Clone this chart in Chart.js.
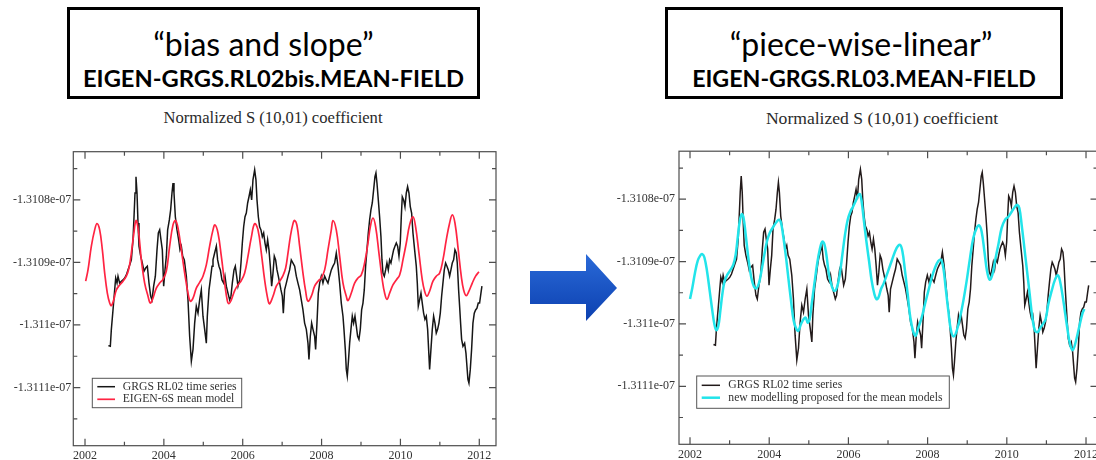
<!DOCTYPE html>
<html>
<head>
<meta charset="utf-8">
<script src="https://cdn.jsdelivr.net/npm/chart.js@4.4.1/dist/chart.umd.min.js"></script>
<style>
  html, body { margin: 0; padding: 0; background: #fff; overflow: hidden; }
  body { position: relative; width: 1096px; height: 460px; }
  .box { position: absolute; border: 3px solid #000; box-sizing: border-box; }
  .t1, .t2, .sub { position: absolute; text-align: center; white-space: nowrap; color: #000; }
  .t1 { font-family: Lato, "Open Sans", sans-serif; font-size: 32px; line-height: 32px; }
  .t2 { font-family: Lato, "Open Sans", sans-serif; font-weight: 700; line-height: 24px; }
  .sub { font-family: "Liberation Serif", serif; color: #2a2a2a; }
  canvas { position: absolute; }
  svg { position: absolute; }
</style>
</head>
<body>

<div class="box" style="left:67px; top:7px; width:413px; height:92px;"></div>
<div class="t1" style="left:57px; width:413px; top:27.5px;">“bias and slope”</div>
<div class="t2" style="left:67px; width:413px; top:66px; font-size:23.7px;">EIGEN-GRGS.RL02bis.MEAN-FIELD</div>
<div class="sub" style="left:123px; width:300px; top:110px; font-size:16.6px; line-height:16.6px;">Normalized S (10,01) coefficient</div>

<div class="box" style="left:665px; top:7px; width:398px; height:92px;"></div>
<div class="t1" style="left:662px; width:398px; top:27.5px;">“piece-wise-linear”</div>
<div class="t2" style="left:665px; width:398px; top:66px; font-size:23.2px;">EIGEN-GRGS.RL03.MEAN-FIELD</div>
<div class="sub" style="left:732px; width:300px; top:109.6px; font-size:17.6px; line-height:17.6px;">Normalized S (10,01) coefficient</div>

<canvas id="leftChart" width="510" height="320" style="left:0; top:140px;"></canvas>
<canvas id="rightChart" width="510" height="320" style="left:600px; top:140px;"></canvas>

<svg width="100" height="80" viewBox="0 0 100 80" style="left:526px; top:250px;">
  <defs>
    <linearGradient id="arrowFill" x1="0" y1="0" x2="0" y2="1">
      <stop offset="0" stop-color="#2a6ad8"/>
      <stop offset="1" stop-color="#0c40b0"/>
    </linearGradient>
  </defs>
  <polygon points="4,21 60,21 60,4 91,38 60,71 60,54 4,54" fill="url(#arrowFill)"/>
</svg>

<script>
// normalized S(10,01) values are stored in units of 1e-7
const yearTicks = [2002, 2004, 2006, 2008, 2010, 2012];
const minorYearTicks = [2003, 2005, 2007, 2009, 2011];
const valueTicks = [-1.3108, -1.3109, -1.311, -1.3111];
const minorValueTicks = [-1.31075, -1.31085, -1.31095, -1.31105, -1.31115];

// GRGS RL02 time series
const grgsYears = [
  2002.592, 2002.642, 2002.668, 2002.710, 2002.752, 2002.778, 2002.812, 2002.837, 2002.879, 2002.921,
  2002.964, 2003.006, 2003.048, 2003.090, 2003.133, 2003.175, 2003.217, 2003.243, 2003.268, 2003.293,
  2003.319, 2003.344, 2003.369, 2003.412, 2003.454, 2003.496, 2003.538, 2003.581, 2003.623, 2003.665,
  2003.699, 2003.741, 2003.784, 2003.826, 2003.860, 2003.894, 2003.927, 2003.961, 2003.995, 2004.029,
  2004.063, 2004.096, 2004.139, 2004.172, 2004.206, 2004.232, 2004.257, 2004.291, 2004.333, 2004.375,
  2004.409, 2004.443, 2004.477, 2004.519, 2004.570, 2004.612, 2004.654, 2004.697, 2004.739, 2004.781,
  2004.823, 2004.866, 2004.908, 2004.950, 2004.992, 2005.035, 2005.077, 2005.102, 2005.145, 2005.178,
  2005.221, 2005.246, 2005.288, 2005.331, 2005.364, 2005.398, 2005.432, 2005.474, 2005.516, 2005.550,
  2005.584, 2005.626, 2005.669, 2005.702, 2005.736, 2005.779, 2005.812, 2005.846, 2005.880, 2005.922,
  2005.956, 2005.990, 2006.024, 2006.058, 2006.091, 2006.125, 2006.159, 2006.193, 2006.227, 2006.260,
  2006.303, 2006.336, 2006.362, 2006.396, 2006.429, 2006.463, 2006.497, 2006.531, 2006.565, 2006.598,
  2006.632, 2006.666, 2006.700, 2006.734, 2006.768, 2006.801, 2006.835, 2006.869, 2006.903, 2006.937,
  2006.970, 2007.004, 2007.030, 2007.063, 2007.106, 2007.148, 2007.190, 2007.232, 2007.275, 2007.317,
  2007.359, 2007.401, 2007.444, 2007.486, 2007.528, 2007.570, 2007.613, 2007.655, 2007.680, 2007.714,
  2007.748, 2007.782, 2007.824, 2007.849, 2007.883, 2007.917, 2007.951, 2007.993, 2008.035, 2008.078,
  2008.120, 2008.162, 2008.204, 2008.247, 2008.289, 2008.331, 2008.373, 2008.416, 2008.458, 2008.500,
  2008.543, 2008.568, 2008.602, 2008.627, 2008.652, 2008.678, 2008.712, 2008.745, 2008.779, 2008.813,
  2008.847, 2008.881, 2008.914, 2008.948, 2008.982, 2009.016, 2009.050, 2009.083, 2009.117, 2009.151,
  2009.185, 2009.219, 2009.252, 2009.286, 2009.320, 2009.354, 2009.379, 2009.405, 2009.439, 2009.472,
  2009.506, 2009.532, 2009.557, 2009.591, 2009.625, 2009.658, 2009.692, 2009.726, 2009.760, 2009.794,
  2009.827, 2009.861, 2009.895, 2009.929, 2009.963, 2009.996, 2010.022, 2010.047, 2010.081, 2010.115,
  2010.149, 2010.182, 2010.216, 2010.250, 2010.284, 2010.318, 2010.360, 2010.402, 2010.428, 2010.453,
  2010.487, 2010.521, 2010.554, 2010.588, 2010.622, 2010.656, 2010.690, 2010.715, 2010.740, 2010.774,
  2010.808, 2010.842, 2010.876, 2010.909, 2010.943, 2010.977, 2011.011, 2011.045, 2011.078, 2011.112,
  2011.146, 2011.180, 2011.214, 2011.248, 2011.281, 2011.315, 2011.349, 2011.383, 2011.417, 2011.442,
  2011.476, 2011.501, 2011.526, 2011.552, 2011.586, 2011.628, 2011.662, 2011.687, 2011.712, 2011.738,
  2011.772, 2011.805, 2011.839, 2011.873, 2011.907, 2011.941, 2011.974, 2012.008, 2012.042, 2012.067
];
const grgsValues = [
  -1.311033, -1.311034, -1.311007, -1.310976, -1.310944, -1.310925, -1.310933, -1.310922, -1.310933, -1.310930,
  -1.310928, -1.310925, -1.310920, -1.310912, -1.310904, -1.310896, -1.310864, -1.310827, -1.310789, -1.310763,
  -1.310789, -1.310837, -1.310874, -1.310890, -1.310901, -1.310914, -1.310909, -1.310906, -1.310933, -1.310954,
  -1.310960, -1.310938, -1.310922, -1.310880, -1.310853, -1.310848, -1.310864, -1.310880, -1.310938, -1.310912,
  -1.310890, -1.310848, -1.310832, -1.310816, -1.310789, -1.310773, -1.310789, -1.310827, -1.310848, -1.310864,
  -1.310880, -1.310874, -1.310890, -1.310896, -1.310922, -1.310960, -1.311018, -1.311058, -1.311039, -1.310997,
  -1.310970, -1.310981, -1.310960, -1.310944, -1.310986, -1.311007, -1.311029, -1.310986, -1.310944, -1.310928,
  -1.310906, -1.310896, -1.310885, -1.310874, -1.310896, -1.310906, -1.310912, -1.310928, -1.310933, -1.310922,
  -1.310938, -1.310949, -1.310960, -1.310954, -1.310933, -1.310912, -1.310906, -1.310922, -1.310938, -1.310928,
  -1.310901, -1.310869, -1.310843, -1.310827, -1.310821, -1.310805, -1.310795, -1.310784, -1.310800, -1.310768,
  -1.310752, -1.310768, -1.310800, -1.310827, -1.310843, -1.310848, -1.310859, -1.310853, -1.310869, -1.310880,
  -1.310864, -1.310880, -1.310906, -1.310938, -1.310917, -1.310890, -1.310896, -1.310912, -1.310922, -1.310933,
  -1.310944, -1.310954, -1.310981, -1.310944, -1.310933, -1.310922, -1.310912, -1.310896, -1.310901, -1.310906,
  -1.310922, -1.310933, -1.310944, -1.310960, -1.310976, -1.310997, -1.311007, -1.311029, -1.311055, -1.311018,
  -1.310997, -1.311007, -1.311018, -1.311039, -1.310997, -1.310949, -1.310933, -1.310922, -1.310933, -1.310922,
  -1.310928, -1.310933, -1.310922, -1.310912, -1.310906, -1.310901, -1.310885, -1.310906, -1.310933, -1.310965,
  -1.310986, -1.311007, -1.311039, -1.311071, -1.311082, -1.311061, -1.311029, -1.311007, -1.310986, -1.310997,
  -1.310986, -1.311002, -1.311018, -1.311023, -1.311007, -1.310976, -1.310965, -1.310944, -1.310906, -1.310880,
  -1.310853, -1.310832, -1.310816, -1.310805, -1.310784, -1.310763, -1.310757, -1.310773, -1.310800, -1.310827,
  -1.310859, -1.310896, -1.310917, -1.310922, -1.310912, -1.310901, -1.310912, -1.310896, -1.310901, -1.310890,
  -1.310880, -1.310874, -1.310869, -1.310874, -1.310890, -1.310869, -1.310827, -1.310795, -1.310800, -1.310811,
  -1.310789, -1.310779, -1.310789, -1.310811, -1.310821, -1.310853, -1.310880, -1.310906, -1.310933, -1.310970,
  -1.310960, -1.310949, -1.310965, -1.310981, -1.310991, -1.310986, -1.311007, -1.311039, -1.311071, -1.311039,
  -1.311007, -1.310986, -1.310997, -1.311013, -1.311007, -1.310997, -1.310981, -1.310954, -1.310933, -1.310912,
  -1.310901, -1.310906, -1.310912, -1.310922, -1.310912, -1.310901, -1.310896, -1.310880, -1.310885, -1.310901,
  -1.310944, -1.310970, -1.310997, -1.311023, -1.311034, -1.311029, -1.311045, -1.311066, -1.311087, -1.311093,
  -1.311071, -1.311039, -1.310997, -1.310981, -1.310976, -1.310973, -1.310965, -1.310965, -1.310949, -1.310938
];

// EIGEN-6S mean model
const eigenYears = [
  2002.017, 2002.076, 2002.161, 2002.245, 2002.304, 2002.372, 2002.440, 2002.499, 2002.566, 2002.626,
  2002.668, 2002.727, 2002.795, 2002.879, 2002.964, 2003.048, 2003.116, 2003.175, 2003.234, 2003.293,
  2003.352, 2003.429, 2003.513, 2003.598, 2003.657, 2003.724, 2003.809, 2003.894, 2003.978, 2004.063,
  2004.147, 2004.232, 2004.299, 2004.367, 2004.443, 2004.528, 2004.612, 2004.671, 2004.739, 2004.823,
  2004.908, 2004.992, 2005.077, 2005.161, 2005.246, 2005.297, 2005.373, 2005.457, 2005.542, 2005.609,
  2005.652, 2005.711, 2005.796, 2005.880, 2005.964, 2006.049, 2006.134, 2006.218, 2006.303, 2006.387,
  2006.472, 2006.556, 2006.641, 2006.683, 2006.768, 2006.852, 2006.937, 2007.021, 2007.089, 2007.148,
  2007.207, 2007.275, 2007.317, 2007.376, 2007.444, 2007.528, 2007.596, 2007.655, 2007.740, 2007.824,
  2007.909, 2007.993, 2008.078, 2008.162, 2008.247, 2008.289, 2008.373, 2008.458, 2008.543, 2008.627,
  2008.669, 2008.754, 2008.838, 2008.923, 2009.008, 2009.092, 2009.177, 2009.236, 2009.303, 2009.371,
  2009.455, 2009.540, 2009.599, 2009.658, 2009.726, 2009.810, 2009.895, 2009.980, 2010.064, 2010.149,
  2010.233, 2010.318, 2010.385, 2010.470, 2010.554, 2010.614, 2010.673, 2010.740, 2010.825, 2010.909,
  2010.994, 2011.078, 2011.163, 2011.248, 2011.315, 2011.383, 2011.467, 2011.543, 2011.603, 2011.670,
  2011.738, 2011.822, 2011.907, 2011.991
];
const eigenValues = [
  -1.310930, -1.310912, -1.310874, -1.310848, -1.310838, -1.310848, -1.310880, -1.310917, -1.310949, -1.310965,
  -1.310969, -1.310960, -1.310944, -1.310936, -1.310930, -1.310922, -1.310909, -1.310885, -1.310856, -1.310833,
  -1.310848, -1.310896, -1.310933, -1.310954, -1.310965, -1.310957, -1.310941, -1.310933, -1.310927, -1.310914,
  -1.310874, -1.310840, -1.310833, -1.310848, -1.310880, -1.310917, -1.310949, -1.310962, -1.310957, -1.310941,
  -1.310932, -1.310922, -1.310904, -1.310874, -1.310848, -1.310840, -1.310853, -1.310890, -1.310933, -1.310961,
  -1.310966, -1.310960, -1.310945, -1.310936, -1.310929, -1.310917, -1.310890, -1.310860, -1.310838, -1.310848,
  -1.310885, -1.310928, -1.310960, -1.310966, -1.310954, -1.310938, -1.310930, -1.310921, -1.310909, -1.310885,
  -1.310859, -1.310838, -1.310833, -1.310841, -1.310874, -1.310917, -1.310946, -1.310962, -1.310954, -1.310938,
  -1.310930, -1.310925, -1.310912, -1.310880, -1.310848, -1.310833, -1.310848, -1.310890, -1.310933, -1.310954,
  -1.310961, -1.310949, -1.310933, -1.310925, -1.310920, -1.310901, -1.310869, -1.310843, -1.310829, -1.310843,
  -1.310885, -1.310928, -1.310949, -1.310959, -1.310949, -1.310936, -1.310928, -1.310920, -1.310896, -1.310869,
  -1.310840, -1.310827, -1.310843, -1.310885, -1.310928, -1.310946, -1.310954, -1.310946, -1.310930, -1.310922,
  -1.310917, -1.310896, -1.310864, -1.310837, -1.310824, -1.310837, -1.310880, -1.310922, -1.310944, -1.310953,
  -1.310946, -1.310933, -1.310922, -1.310915
];

// new modelling proposed for the mean models
const newModelYears = [
  2002.000, 2002.059, 2002.126, 2002.194, 2002.261, 2002.311, 2002.362, 2002.429, 2002.497, 2002.564,
  2002.615, 2002.665, 2002.716, 2002.766, 2002.817, 2002.875, 2002.943, 2003.027, 2003.094, 2003.153,
  2003.204, 2003.254, 2003.305, 2003.347, 2003.406, 2003.473, 2003.540, 2003.608, 2003.675, 2003.743,
  2003.810, 2003.877, 2003.945, 2004.012, 2004.096, 2004.180, 2004.248, 2004.298, 2004.349, 2004.416,
  2004.483, 2004.551, 2004.618, 2004.685, 2004.736, 2004.803, 2004.871, 2004.921, 2004.972, 2005.022,
  2005.073, 2005.140, 2005.207, 2005.275, 2005.342, 2005.392, 2005.443, 2005.510, 2005.578, 2005.645,
  2005.712, 2005.780, 2005.847, 2005.914, 2005.982, 2006.049, 2006.116, 2006.184, 2006.251, 2006.293,
  2006.335, 2006.394, 2006.453, 2006.521, 2006.588, 2006.655, 2006.706, 2006.756, 2006.824, 2006.891,
  2007.092, 2007.219, 2007.303, 2007.362, 2007.429, 2007.496, 2007.564, 2007.640, 2007.698, 2007.766,
  2007.850, 2007.934, 2008.018, 2008.103, 2008.187, 2008.271, 2008.338, 2008.397, 2008.456, 2008.523,
  2008.591, 2008.658, 2008.734, 2008.818, 2008.902, 2008.986, 2009.071, 2009.155, 2009.239, 2009.306,
  2009.365, 2009.433, 2009.500, 2009.567, 2009.635, 2009.702, 2009.786, 2009.870, 2009.954, 2010.039,
  2010.123, 2010.207, 2010.266, 2010.316, 2010.375, 2010.443, 2010.510, 2010.577, 2010.645, 2010.712,
  2010.779, 2010.847, 2010.914, 2010.981, 2011.049, 2011.133, 2011.217, 2011.285, 2011.343, 2011.428,
  2011.512, 2011.596, 2011.663, 2011.739, 2011.823, 2011.907, 2011.958
];
const newModelValues = [
  -1.310960, -1.310942, -1.310918, -1.310899, -1.310890, -1.310888, -1.310893, -1.310915, -1.310947, -1.310979,
  -1.311000, -1.311010, -1.311003, -1.310979, -1.310952, -1.310931, -1.310921, -1.310913, -1.310905, -1.310889,
  -1.310862, -1.310836, -1.310824, -1.310828, -1.310857, -1.310894, -1.310923, -1.310939, -1.310943, -1.310934,
  -1.310913, -1.310889, -1.310867, -1.310854, -1.310845, -1.310837, -1.310833, -1.310838, -1.310857, -1.310889,
  -1.310926, -1.310963, -1.310995, -1.311008, -1.311011, -1.311000, -1.310992, -1.310990, -1.310998, -1.310992,
  -1.310968, -1.310936, -1.310905, -1.310881, -1.310868, -1.310872, -1.310889, -1.310921, -1.310939, -1.310947,
  -1.310941, -1.310921, -1.310889, -1.310857, -1.310833, -1.310820, -1.310812, -1.310803, -1.310793, -1.310792,
  -1.310804, -1.310836, -1.310867, -1.310899, -1.310931, -1.310952, -1.310960, -1.310958, -1.310944, -1.310935,
  -1.310899, -1.310878, -1.310873, -1.310883, -1.310915, -1.310952, -1.310990, -1.311013, -1.311019, -1.311006,
  -1.310990, -1.310968, -1.310947, -1.310926, -1.310910, -1.310899, -1.310897, -1.310910, -1.310942, -1.310979,
  -1.311011, -1.311020, -1.311011, -1.310990, -1.310963, -1.310931, -1.310894, -1.310862, -1.310846, -1.310842,
  -1.310852, -1.310883, -1.310915, -1.310929, -1.310921, -1.310899, -1.310873, -1.310846, -1.310833, -1.310828,
  -1.310820, -1.310812, -1.310809, -1.310814, -1.310841, -1.310878, -1.310915, -1.310952, -1.310990, -1.311011,
  -1.311013, -1.311006, -1.311000, -1.310992, -1.310968, -1.310947, -1.310929, -1.310922, -1.310931, -1.310963,
  -1.311000, -1.311032, -1.311042, -1.311029, -1.311006, -1.310984, -1.310976
];

const serif = '"Liberation Serif", "Times New Roman", serif';

function toPoints(xs, ys) {
  return xs.map((x, i) => ({ x: x, y: ys[i] }));
}

// box frame with inward major/minor ticks on all four sides
const frameTicks = {
  id: 'frameTicks',
  afterDatasetsDraw(chart) {
    const { ctx, chartArea: a, scales: { x, y } } = chart;
    ctx.save();
    ctx.strokeStyle = '#4d4d4d';
    ctx.lineWidth = 1.2;
    ctx.strokeRect(a.left, a.top, a.right - a.left, a.bottom - a.top);
    ctx.beginPath();
    const xTick = (v, len) => {
      const px = x.getPixelForValue(v);
      ctx.moveTo(px, a.bottom); ctx.lineTo(px, a.bottom - len);
      ctx.moveTo(px, a.top); ctx.lineTo(px, a.top + len);
    };
    const yTick = (v, len) => {
      const py = y.getPixelForValue(v);
      ctx.moveTo(a.left, py); ctx.lineTo(a.left + len, py);
      ctx.moveTo(a.right, py); ctx.lineTo(a.right - len, py);
    };
    yearTicks.forEach(v => xTick(v, 7));
    minorYearTicks.forEach(v => xTick(v, 4));
    valueTicks.forEach(v => yTick(v, 7));
    minorValueTicks.forEach(v => yTick(v, 4));
    ctx.stroke();
    ctx.restore();
  }
};

// legend box drawn inside the plot, lower left
const boxLegend = {
  id: 'boxLegend',
  afterDraw(chart, args, opts) {
    const ctx = chart.ctx;
    const [x1, y1, x2, y2] = opts.box;
    ctx.save();
    ctx.fillStyle = '#fff';
    ctx.fillRect(x1, y1, x2 - x1, y2 - y1);
    ctx.strokeStyle = '#555';
    ctx.lineWidth = 1;
    ctx.strokeRect(x1, y1, x2 - x1, y2 - y1);
    ctx.font = '11.7px ' + serif;
    ctx.textBaseline = 'middle';
    chart.data.datasets.forEach((ds, i) => {
      const ry = opts.rows[i];
      ctx.strokeStyle = ds.borderColor;
      ctx.lineWidth = ds.borderWidth;
      ctx.beginPath();
      ctx.moveTo(opts.sample[0], ry);
      ctx.lineTo(opts.sample[1], ry);
      ctx.stroke();
      ctx.fillStyle = '#333';
      ctx.fillText(ds.label, opts.textX, ry);
    });
    ctx.restore();
  }
};

function buildChart(id, cfg) {
  return new Chart(document.getElementById(id), {
    type: 'line',
    data: { datasets: cfg.datasets },
    options: {
      responsive: false,
      animation: false,
      devicePixelRatio: 1,
      layout: { padding: cfg.padding },
      elements: { point: { radius: 0 } },
      plugins: {
        legend: { display: false },
        tooltip: { enabled: false },
        boxLegend: cfg.legend
      },
      scales: {
        x: {
          type: 'linear',
          min: cfg.xMin,
          max: cfg.xMax,
          grid: { display: false, drawTicks: false },
          border: { display: false },
          afterBuildTicks: s => { s.ticks = yearTicks.map(v => ({ value: v })); },
          afterFit: s => { s.height = cfg.xAxisHeight; },
          ticks: {
            font: { family: serif, size: 12 },
            color: '#333',
            padding: 3,
            maxRotation: 0,
            autoSkip: false,
            callback: v => String(v)
          }
        },
        y: {
          min: -1.311193,
          max: -1.310723,
          grid: { display: false, drawTicks: false },
          border: { display: false },
          afterBuildTicks: s => { s.ticks = valueTicks.map(v => ({ value: v })); },
          afterFit: s => { s.width = cfg.yAxisWidth; },
          ticks: {
            font: { family: serif, size: 12 },
            color: '#333',
            padding: cfg.yPad,
            autoSkip: false,
            callback: v => Number(v.toFixed(5)) + 'e-07'
          }
        }
      }
    },
    plugins: [frameTicks, boxLegend]
  });
}

buildChart('leftChart', {
  padding: { top: 11.7, right: 14, bottom: 0, left: 0 },
  yAxisWidth: 73.3,
  xAxisHeight: 14.3,
  yPad: 2,
  xMin: 2001.703,
  xMax: 2012.424,
  legend: { box: [92.3, 238.3, 241.7, 267.7], rows: [246.7, 259.3], sample: [97.3, 115], textX: 122.7 },
  datasets: [
    { label: 'GRGS RL02 time series', data: toPoints(grgsYears, grgsValues),
      borderColor: '#161616', borderWidth: 1.5, tension: 0, order: 1 },
    { label: 'EIGEN-6S mean model', data: toPoints(eigenYears, eigenValues),
      borderColor: '#ff2442', borderWidth: 1.7, tension: 0.4, order: 0 }
  ]
});

buildChart('rightChart', {
  padding: { top: 9.3, right: 12.5, bottom: 0, left: 0 },
  yAxisWidth: 79,
  xAxisHeight: 15.7,
  yPad: 4,
  xMin: 2001.722,
  xMax: 2012.29,
  legend: { box: [96.7, 236, 349.3, 268.3], rows: [245.3, 257.7], sample: [101.7, 120], textX: 128.3 },
  datasets: [
    { label: 'GRGS RL02 time series', data: toPoints(grgsYears, grgsValues),
      borderColor: '#221a1a', borderWidth: 1.5, tension: 0, order: 1 },
    { label: 'new modelling proposed for the mean models', data: toPoints(newModelYears, newModelValues),
      borderColor: '#22e4ea', borderWidth: 2.5, tension: 0.4, order: 0 }
  ]
});
</script>
</body>
</html>
